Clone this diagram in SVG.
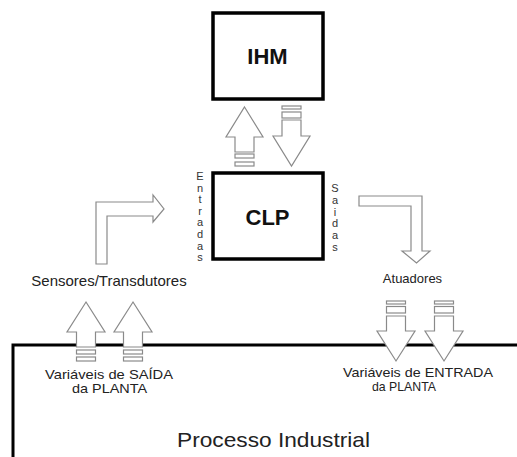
<svg xmlns="http://www.w3.org/2000/svg" width="517" height="457" viewBox="0 0 517 457">
<style>
.box{fill:#fff;stroke:#000;stroke-width:3.5}
.arr{fill:#fff;stroke:#8a8a8a;stroke-width:1.2;stroke-linejoin:miter}
.t{font-family:"Liberation Sans",Arial,sans-serif;fill:#222}
.b{font-weight:bold;font-size:22px;text-anchor:middle;fill:#111}
.v{font-size:11px;text-anchor:middle;fill:#333}
</style>
<rect width="517" height="457" fill="#fff"/>
<g id="processo">
<path d="M13,457 V345 H517" fill="none" stroke="#000" stroke-width="3"/>
<text class="t" x="177" y="447" font-size="21" textLength="193" lengthAdjust="spacingAndGlyphs">Processo Industrial</text>
</g>
<g id="ihm">
<rect class="box" x="213" y="13" width="110" height="86"/>
<text class="t b" x="267.5" y="64">IHM</text>
</g>
<g id="clp">
<rect class="box" x="213" y="173" width="110" height="86"/>
<text class="t b" x="267.5" y="225">CLP</text>
<g class="t v">
<text x="200" y="180">E</text><text x="200" y="191.6">n</text><text x="200" y="203.2">t</text><text x="200" y="214.8">r</text><text x="200" y="226.4">a</text><text x="200" y="238">d</text><text x="200" y="249.6">a</text><text x="200" y="261.2">s</text>
<text x="335" y="192">S</text><text x="335" y="203.8">a</text><text x="335" y="215.6">i</text><text x="335" y="227.4">d</text><text x="335" y="239.2">a</text><text x="335" y="251">s</text>
</g>
</g>
<g id="sensores">
<text class="t" x="109" y="286" font-size="15" text-anchor="middle">Sensores/Transdutores</text>
</g>
<g id="atuadores">
<text class="t" x="412.5" y="283" font-size="13" text-anchor="middle">Atuadores</text>
</g>
<g id="var-saida">
<text class="t" x="45" y="379" font-size="13" textLength="128" lengthAdjust="spacingAndGlyphs">Variáveis de SAÍDA</text>
<text class="t" x="72" y="393" font-size="13" textLength="75" lengthAdjust="spacingAndGlyphs">da PLANTA</text>
</g>
<g id="var-entrada">
<text class="t" x="343" y="377" font-size="13" textLength="150" lengthAdjust="spacingAndGlyphs">Variáveis de ENTRADA</text>
<text class="t" x="372" y="391" font-size="13" textLength="64" lengthAdjust="spacingAndGlyphs">da PLANTA</text>
</g>
<g id="connectors">
<polygon class="arr" points="244.5,107 263,137 254,137 254,152 235,152 235,137 226,137"/>
<rect class="arr" x="235" y="154" width="19" height="4"/>
<rect class="arr" x="235" y="162" width="19" height="4"/>
<rect class="arr" x="282" y="106" width="19" height="3"/>
<rect class="arr" x="282" y="112" width="19" height="6"/>
<polygon class="arr" points="282,120 301,120 301,136 310,136 291.5,166 273,136 282,136"/>
<polygon class="arr" points="96,264 96,202 153,202 153,195 164,209 153,222 153,216 107,216 107,264"/>
<polygon class="arr" points="359,196 422,196 422,251 430,251 416.5,263 402,251 411,251 411,206 359,206"/>
<polygon class="arr" points="86,302 105,332 95.5,332 95.5,347 76.5,347 76.5,332 67,332"/>
<rect class="arr" x="76.5" y="350" width="19" height="4"/>
<rect class="arr" x="76.5" y="357" width="19" height="4"/>
<polygon class="arr" points="133,302 152,332 142.5,332 142.5,347 123.5,347 123.5,332 114,332"/>
<rect class="arr" x="123.5" y="350" width="19" height="4"/>
<rect class="arr" x="123.5" y="357" width="19" height="4"/>
<rect class="arr" x="386.5" y="301" width="19" height="3"/>
<rect class="arr" x="386.5" y="306.5" width="19" height="6.5"/>
<polygon class="arr" points="386.5,316 405.5,316 405.5,331 415,331 396,361 377,331 386.5,331"/>
<rect class="arr" x="434.5" y="301" width="19" height="3"/>
<rect class="arr" x="434.5" y="306.5" width="19" height="6.5"/>
<polygon class="arr" points="434.5,316 453.5,316 453.5,331 463,331 444,361 425,331 434.5,331"/>
</g>
</svg>
